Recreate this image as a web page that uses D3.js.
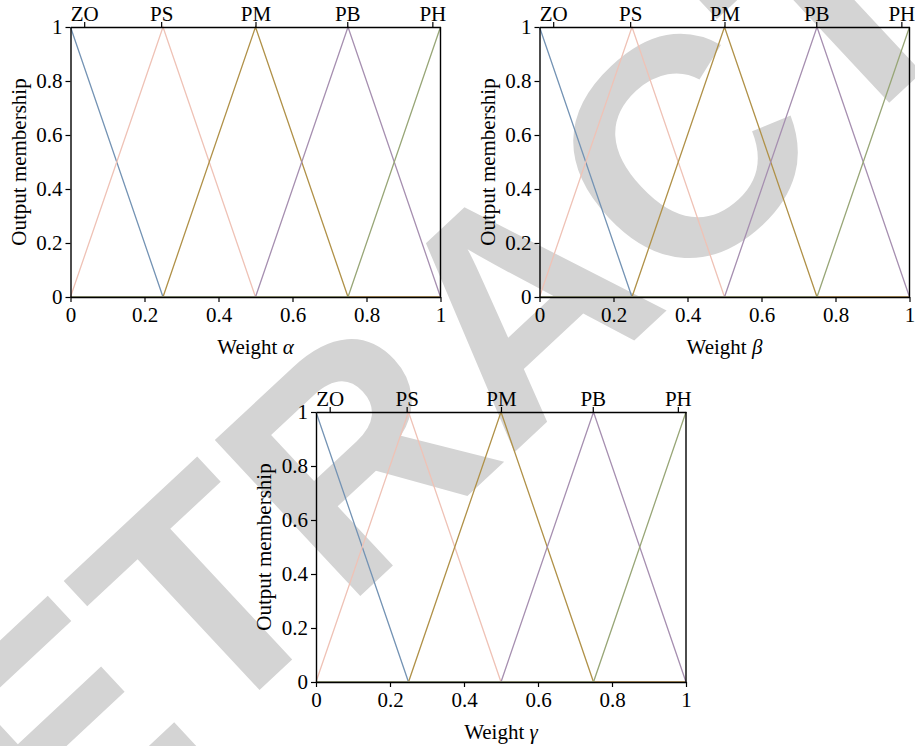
<!DOCTYPE html>
<html>
<head>
<meta charset="utf-8">
<script src="https://cdn.jsdelivr.net/npm/d3@7/dist/d3.min.js"></script>
<style>
  body { margin: 0; background: #fff; }
  svg text { font-family: "Liberation Serif", "Times New Roman", serif; }
</style>
</head>
<body>
<div id="chart"></div>
<script>
// Membership breakpoints and values of each fuzzy set
var xPoints = [0, 0.25, 0.5, 0.75, 1];
var setNames = ["ZO", "PS", "PM", "PB", "PH"];
var zoValues = [1, 0, 0, 0, 0];
var psValues = [0, 1, 0, 0, 0];
var pmValues = [0, 0, 1, 0, 0];
var pbValues = [0, 0, 0, 1, 0];
var phValues = [0, 0, 0, 0, 1];
var setColors = ["#7493b4", "#efc2b6", "#b09148", "#a68fb0", "#98a677"];

// Axis ticks
var axisTicks = [0, 0.2, 0.4, 0.6, 0.8, 1];
var topLabelPos = [0.037, 0.245, 0.5, 0.748, 0.978];
var weightNames = ["\u03b1", "\u03b2", "\u03b3"];

var seriesValues = [zoValues, psValues, pmValues, pbValues, phValues];

// Panel placement
var panels = [
    { left: 70.5, top: 27, width: 370, height: 270 },
    { left: 539.5, top: 27, width: 370, height: 270 },
    { left: 316, top: 412, width: 370, height: 270 }
];

var svg = d3.select("#chart").append("svg")
    .attr("width", 915)
    .attr("height", 746);

// Watermark
var fs = 310;
svg.append("text")
    .attr("transform", "translate(515,300) rotate(-43)")
    .attr("y", fs * 0.716 / 2)
    .attr("text-anchor", "middle")
    .style("font-family", "'Liberation Sans', Arial, sans-serif")
    .style("font-weight", "bold")
    .style("font-size", fs + "px")
    .style("fill", "#d4d4d4")
    .text("RETRACTED");

var serif = "'Liberation Serif', 'Times New Roman', serif";

panels.forEach(function (p, pi) {
    var g = svg.append("g")
        .attr("transform", "translate(" + p.left + "," + p.top + ")");

    var x = d3.scaleLinear().domain([0, 1]).range([0, p.width]);
    var y = d3.scaleLinear().domain([0, 1]).range([p.height, 0]);

    var line = d3.line()
        .x(function (d, i) { return x(xPoints[i]); })
        .y(function (d) { return y(d); });

    // Membership lines
    seriesValues.forEach(function (vals, si) {
        g.append("path")
            .datum(vals)
            .attr("d", line)
            .attr("fill", "none")
            .attr("stroke", setColors[si])
            .attr("stroke-width", 1.3);
    });

    var fmt = function (d) { return d3.format("~g")(d); };

    // Bottom axis
    var bottom = g.append("g")
        .attr("transform", "translate(0," + p.height + ")")
        .call(d3.axisBottom(x).tickValues(axisTicks).tickFormat(fmt)
            .tickSize(5).tickSizeOuter(0).tickPadding(5));

    // Left axis
    var left = g.append("g")
        .call(d3.axisLeft(y).tickValues(axisTicks).tickFormat(fmt)
            .tickSize(5).tickSizeOuter(0).tickPadding(3));

    // Top axis with fuzzy set names
    var top = g.append("g")
        .call(d3.axisTop(x).tickValues(topLabelPos)
            .tickFormat(function (d, i) { return setNames[i]; })
            .tickSize(5).tickSizeOuter(0).tickPadding(1));

    // Right border
    g.append("line")
        .attr("x1", p.width).attr("x2", p.width)
        .attr("y1", 0).attr("y2", p.height)
        .attr("stroke", "#000")
        .attr("stroke-width", 1.4);

    [bottom, left, top].forEach(function (a) {
        a.attr("font-family", serif).attr("font-size", 21);
        a.select(".domain").attr("stroke", "#000").attr("stroke-width", 1.4);
        a.selectAll(".tick line").attr("stroke", "#000").attr("stroke-width", 1.2);
        a.selectAll(".tick text").attr("fill", "#000");
    });

    // X axis label
    var xl = g.append("text")
        .attr("x", p.width / 2)
        .attr("y", p.height + 57)
        .attr("text-anchor", "middle")
        .attr("font-family", serif)
        .attr("font-size", 21)
        .attr("fill", "#000");
    xl.append("tspan").text("Weight ");
    xl.append("tspan").attr("font-style", "italic").text(weightNames[pi]);

    // Y axis label
    g.append("text")
        .attr("transform", "rotate(-90)")
        .attr("x", -p.height / 2)
        .attr("y", -45)
        .attr("text-anchor", "middle")
        .attr("font-family", serif)
        .attr("font-size", 21)
        .attr("fill", "#000")
        .text("Output membership");
});
</script>
</body>
</html>
